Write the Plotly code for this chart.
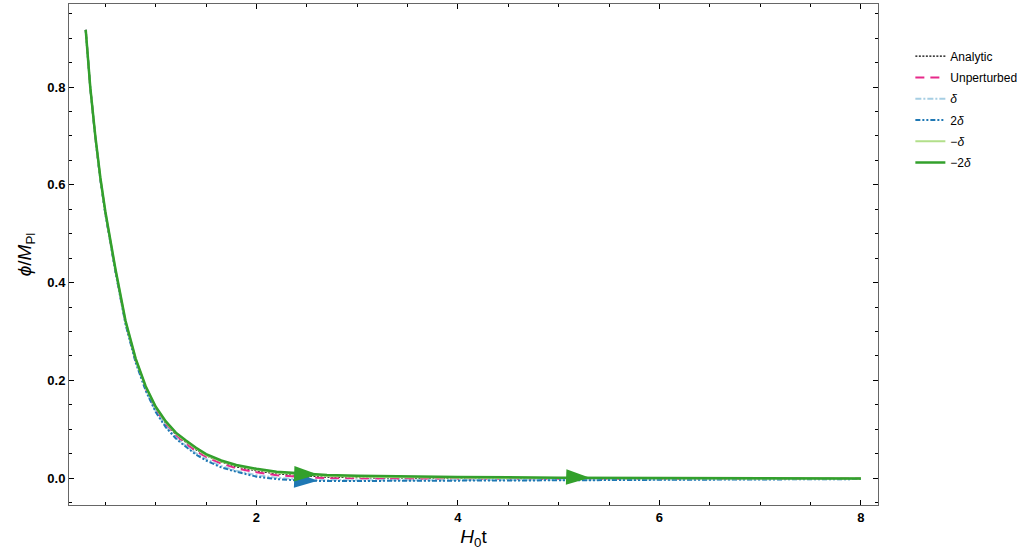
import numpy as np
import plotly.graph_objects as go

# time samples (H0 t)
t = [0.305, 0.35, 0.40, 0.45, 0.50, 0.55, 0.60, 0.70, 0.80, 0.90, 1.00, 1.10, 1.20, 1.30,
     1.40, 1.50, 1.65, 1.80, 2.00, 2.20, 2.45, 2.70, 3.00, 3.50, 4.00, 5.00, 6.00, 7.00, 8.00]

# phi / M_Pl
analytic = [0.917, 0.799, 0.699, 0.613, 0.543, 0.480, 0.426, 0.320, 0.242, 0.185, 0.143, 0.112,
            0.089, 0.073, 0.058, 0.046, 0.033, 0.023, 0.015, 0.009, 0.005, 0.002, 0.001, 0.0,
            -0.0005, -0.001, -0.001, -0.001, -0.001]
unperturbed = [0.917, 0.799, 0.698, 0.612, 0.542, 0.479, 0.424, 0.318, 0.240, 0.183, 0.140, 0.109,
               0.087, 0.070, 0.055, 0.043, 0.030, 0.020, 0.012, 0.006, 0.002, 0.0, -0.001, -0.0015,
               -0.0015, -0.0015, -0.0015, -0.001, -0.001]
delta = [0.917, 0.799, 0.698, 0.612, 0.541, 0.478, 0.423, 0.316, 0.239, 0.181, 0.137, 0.106,
         0.083, 0.066, 0.051, 0.039, 0.025, 0.015, 0.006, 0.001, -0.003, -0.004, -0.0045, -0.0045,
         -0.004, -0.0035, -0.003, -0.002, -0.0015]
two_delta = [0.917, 0.799, 0.697, 0.611, 0.540, 0.477, 0.422, 0.315, 0.237, 0.179, 0.135, 0.104,
             0.081, 0.064, 0.048, 0.036, 0.022, 0.013, 0.003, -0.002, -0.005, -0.006, -0.006, -0.0058,
             -0.0055, -0.0045, -0.0035, -0.0025, -0.002]
minus_delta = [0.917, 0.800, 0.699, 0.614, 0.544, 0.481, 0.427, 0.321, 0.244, 0.187, 0.145, 0.114,
               0.091, 0.075, 0.060, 0.047, 0.034, 0.025, 0.017, 0.011, 0.007, 0.0045, 0.003, 0.0018,
               0.001, 0.0, -0.0005, -0.0008, -0.001]
minus_two_delta = [0.917, 0.800, 0.700, 0.615, 0.545, 0.482, 0.428, 0.322, 0.245, 0.188, 0.146, 0.116,
                   0.093, 0.077, 0.062, 0.049, 0.036, 0.027, 0.019, 0.013, 0.009, 0.0065, 0.005, 0.0035,
                   0.0025, 0.001, 0.0, -0.0005, -0.001]

# where the arrowheads (tips) sit along the curves
arrow_t = [2.61, 5.31]

FONT = "Liberation Sans, Arial, sans-serif"

series = [
    ("Analytic", analytic, dict(color="black", width=1.3, dash="2px,1.5px")),
    ("Unperturbed", unperturbed, dict(color="#e7298a", width=2, dash="9px,6px")),
    ("<i>δ</i>", delta, dict(color="#a6cee3", width=2, dash="6px,2px,2px,2px")),
    ("2<i>δ</i>", two_delta, dict(color="#1f78b4", width=2, dash="5px,2px,2px,2px,2px,2px")),
    ("−<i>δ</i>", minus_delta, dict(color="#b2df8a", width=2)),
    ("−2<i>δ</i>", minus_two_delta, dict(color="#33a02c", width=2.5)),
]

fig = go.Figure()
for i, (name, ys, line) in enumerate(series):
    fig.add_trace(go.Scatter(x=t, y=ys, mode="lines", name=name, line=line,
                             legendgroup=f"g{i}"))

# arrowheads (blue one under the green one)
for ys, col, n in [(two_delta, "#1f78b4", 1), (minus_two_delta, "#33a02c", 2)]:
    ay = np.interp(arrow_t[:n], t, ys)
    fig.add_trace(go.Scatter(
        x=arrow_t[:n], y=ay, mode="markers", showlegend=False, hoverinfo="skip",
        marker=dict(symbol="arrow", angle=92, size=25, color=col, line=dict(width=0)),
    ))

axis_common = dict(
    showline=True, linecolor="#666", linewidth=1, mirror="allticks",
    ticks="inside", ticklen=5, tickcolor="black", tickwidth=1,
    showgrid=False, zeroline=False, automargin=False,
    tickfont=dict(family=FONT, size=13, color="black", weight="bold"),
)

fig.update_xaxes(
    range=[0.139, 8.17], tickvals=[2, 4, 6, 8],
    minor=dict(ticks="inside", dtick=0.5, tick0=0, ticklen=3, tickcolor="black", showgrid=False),
    title=dict(text="<i>H</i><sub>0</sub>t", font=dict(family=FONT, size=19, color="black"), standoff=6),
    **axis_common,
)
fig.update_yaxes(
    range=[-0.055, 0.970], tickvals=[0.0, 0.2, 0.4, 0.6, 0.8], tickformat=".1f",
    minor=dict(ticks="inside", dtick=0.05, tick0=0, ticklen=3, tickcolor="black", showgrid=False),
    title=dict(text="<i>ϕ</i>/<i>M</i><sub>Pl</sub>", font=dict(family=FONT, size=19, color="black"), standoff=10),
    **axis_common,
)

fig.update_layout(
    width=1026, height=558,
    margin=dict(l=69, r=146, t=4, b=53),
    plot_bgcolor="white", paper_bgcolor="white",
    legend=dict(
        x=1.04, y=0.925, xanchor="left", yanchor="top",
        font=dict(family=FONT, size=12, color="black"),
        bgcolor="rgba(0,0,0,0)", tracegroupgap=2.3, itemwidth=30,
    ),
)

fig.write_html("out.html", config={"displayModeBar": False},
               post_script="document.body.style.margin='0';")
